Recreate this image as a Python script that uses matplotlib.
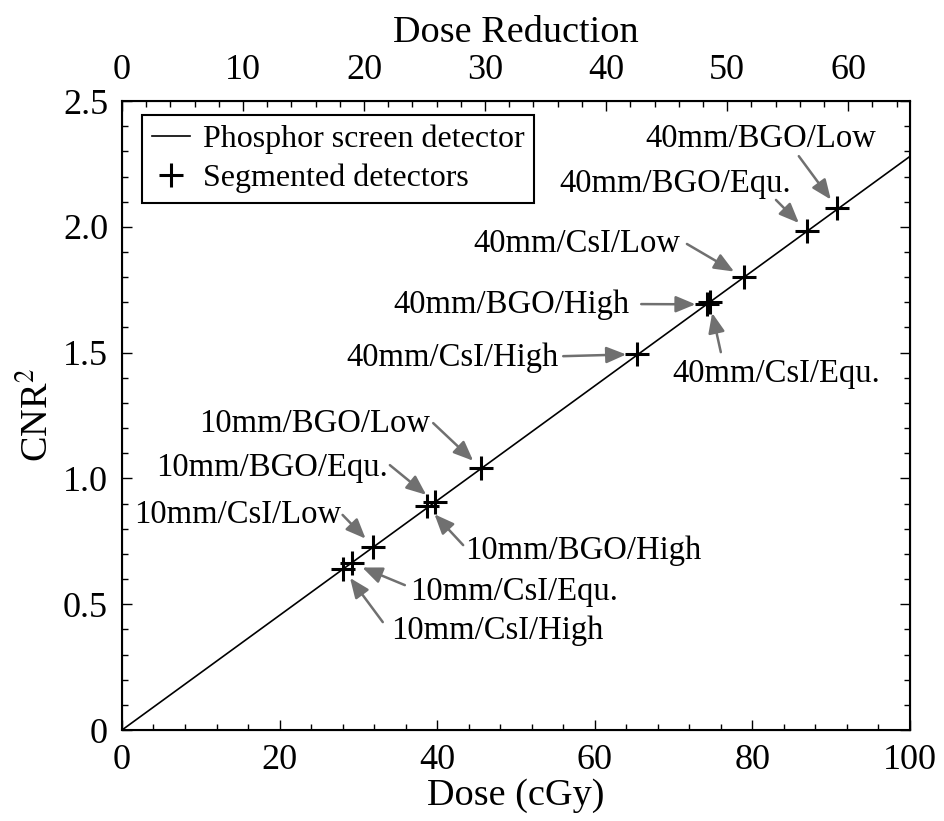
import matplotlib
matplotlib.use("Agg")
import matplotlib.pyplot as plt
from matplotlib.ticker import MultipleLocator, FuncFormatter

plt.rcParams["font.family"] = ["Liberation Serif", "DejaVu Serif"]
plt.rcParams["mathtext.fontset"] = "stix"

# Phosphor screen reference line
line_dose = [0, 100]
line_cnr2 = [0, 2.28]

# Segmented detector configurations
configs = [
    "40mm/BGO/Low", "40mm/BGO/Equ.", "40mm/CsI/Low", "40mm/BGO/High",
    "40mm/CsI/Equ.", "40mm/CsI/High", "10mm/BGO/Low", "10mm/BGO/Equ.",
    "10mm/CsI/Low", "10mm/BGO/High", "10mm/CsI/Equ.", "10mm/CsI/High",
]
dose = [90.8, 86.9, 78.9, 74.2, 74.6, 65.4, 45.6, 39.7, 31.9, 38.7, 29.2, 28.1]
cnr2 = [2.073, 1.984, 1.80, 1.692, 1.701, 1.494, 1.040, 0.907, 0.729, 0.890, 0.663, 0.640]

# dose reduction at 100 cGy (top axis scale)
reduction_max = 65.1

# label placement: text centre x, text baseline y, arrow tail x, arrow tail y
label_x = [81.1, 70.2, 57.7, 49.4, 83.0, 41.9, 24.5, 19.1, 14.7, 58.5, 49.7, 47.6]
label_y = [2.318, 2.140, 1.901, 1.657, 1.384, 1.447, 1.186, 1.010, 0.823, 0.680, 0.517, 0.362]
tail_x = [85.9, 83.0, 71.7, 65.9, 76.0, 56.0, 39.5, 34.0, 28.0, 43.3, 35.9, 33.1]
tail_y = [2.281, 2.107, 1.932, 1.693, 1.502, 1.486, 1.220, 1.053, 0.855, 0.735, 0.576, 0.429]

fig = plt.figure(figsize=(9.44, 8.21), dpi=100)
ax = fig.add_axes([0.1292, 0.1108, 0.8347, 0.7661])

ax.plot(line_dose, line_cnr2, color="black", lw=1.2, label="Phosphor screen detector")
ax.plot(dose, cnr2, linestyle="none", marker="+", color="black",
        markersize=17, markeredgewidth=2.2, label="Segmented detectors")

arrow_color = "#707070"
for i, name in enumerate(configs):
    ax.text(label_x[i], label_y[i], name, ha="center", va="baseline", fontsize=23.5)
    ax.annotate("", xy=(dose[i], cnr2[i]), xytext=(tail_x[i], tail_y[i]),
                arrowprops=dict(arrowstyle="-|>,head_length=0.6,head_width=0.25",
                                mutation_scale=20, color=arrow_color, lw=1.8,
                                shrinkA=0, shrinkB=8))

ax.set_xlim(0, 100)
ax.set_ylim(0, 2.5)
ax.xaxis.set_major_locator(MultipleLocator(20))
ax.xaxis.set_minor_locator(MultipleLocator(4))
ax.yaxis.set_major_locator(MultipleLocator(0.5))
ax.yaxis.set_minor_locator(MultipleLocator(0.1))
ax.yaxis.set_major_formatter(FuncFormatter(lambda v, p: "0" if v == 0 else f"{v:.1f}"))
ax.tick_params(which="both", direction="in", top=False, right=True, labelsize=26, width=1.0)
ax.tick_params(which="major", length=7, pad=10)
ax.tick_params(which="minor", length=4)
for s in ax.spines.values():
    s.set_linewidth(1.5)

ax.set_xlabel("Dose (cGy)", fontsize=27.5, labelpad=1)
ax.set_ylabel(r"CNR$^2$", fontsize=27.5, labelpad=5)

ax2 = ax.twiny()
ax2.set_xlim(0, reduction_max)
ax2.xaxis.set_major_locator(MultipleLocator(10))
ax2.xaxis.set_minor_locator(MultipleLocator(2))
ax2.tick_params(which="both", direction="in", labelsize=26, width=1.0)
ax2.tick_params(which="major", length=7, pad=10)
ax2.tick_params(which="minor", length=4)
ax2.set_xlabel("Dose Reduction", fontsize=27.5, labelpad=9)

leg = ax.legend(loc="upper left", bbox_to_anchor=(0.0254, 0.978), borderaxespad=0,
                fontsize=23, fancybox=False, framealpha=1, edgecolor="black",
                handlelength=1.2, handletextpad=0.4, borderpad=0.3, labelspacing=0.3)
leg.get_frame().set_linewidth(1.5)

fig.savefig("out.png", dpi=100)
